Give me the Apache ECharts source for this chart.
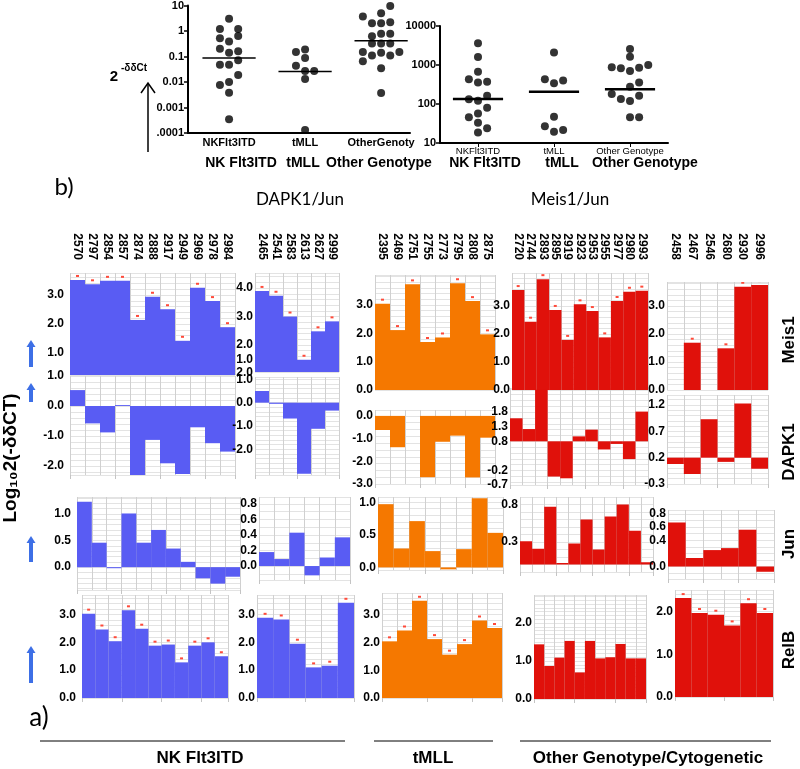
<!DOCTYPE html>
<html><head><meta charset="utf-8">
<script src="https://cdn.jsdelivr.net/npm/echarts@6/dist/echarts.min.js"></script>
<style>html,body{margin:0;padding:0;background:#fff}#c{width:800px;height:769px}</style>
</head><body><div id="c"></div>
<script>
// ================= DATA =================
// top panel (b): dot plots, each point = [dodge slot, value]
const topCats1 = ['NKFlt3ITD', 'tMLL', 'OtherGenotype'];
const topCats2 = ['NKFlt3ITD', 'tMLL', 'Other Genotype'];
const groupNames = ['NK Flt3ITD', 'tMLL', 'Other Genotype'];
const yTickLabels1 = ['.0001', '0.001', '0.01', '0.1', '1', '10'];
const yTickLabels2 = ['10', '100', '1000', '10000'];

const dj_nk = [[0,3.0],[-1,1.2],[1,1.2],[-1,0.52],[1,0.63],[0,0.39],[-1,0.2],[0,0.14],[1,0.16],[1,0.071],[-1,0.048],[0,0.048],[1,0.019],[0,0.01],[-1,0.0076],[0,0.0038],[0,0.00035]];
const dj_tmll = [[-1,0.15],[0,0.19],[0,0.087],[-1,0.043],[0,0.027],[1,0.027],[0,0.013],[0,0.00013]];
const dj_oth = [[1,9.5],[-2,3.7],[0,5.0],[-1,2.0],[0,2.0],[1,2.2],[0,0.78],[-1,0.62],[1,0.78],[-1,0.32],[0,0.32],[1,0.32],[-2,0.15],[0,0.14],[2,0.15],[-1,0.11],[1,0.11],[-2,0.065],[0,0.035],[0,0.0037]];
const dj_med = [0.087, 0.026, 0.41];

const mj_nk = [[0,3600],[0,1600],[0,670],[-1,430],[1,370],[0,355],[1,163],[-1,132],[0,121],[1,80],[0,57],[-1,46],[0,33],[1,24],[0,18.5]];
const mj_tmll = [[0,2100],[-1,430],[1,400],[0,340],[0,47],[-1,27],[0,19.5],[1,21.5]];
const mj_oth = [[0,2570],[0,1620],[-2,870],[-1,830],[0,700],[1,850],[2,1000],[1,355],[0,277],[-2,180],[-1,134],[0,119],[1,163],[0,46],[1,46]];
const mj_med = [134, 205, 240];

// bottom panel (a): sample ids per column group
const ids_nk1 = ['2570','2797','2854','2857','2874','2888','2917','2949','2969','2978','2984'];
const ids_nk2 = ['2465','2541','2583','2613','2627','2999'];
const ids_tmll = ['2395','2469','2751','2755','2773','2795','2808','2875'];
const ids_oth1 = ['2720','2744','2893','2895','2919','2923','2953','2955','2977','2980','2993'];
const ids_oth2 = ['2458','2467','2546','2680','2930','2996'];

const rowNames = ['Meis1', 'DAPK1', 'Jun', 'RelB'];
const bottomGroups = ['NK Flt3ITD', 'tMLL', 'Other Genotype/Cytogenetic'];

const meis1_nk1 = [3.52,3.37,3.49,3.49,2.14,2.94,2.51,1.42,3.25,2.79,1.89];
const meis1_nk2 = [3.9,3.73,3.0,1.48,2.48,2.83];
const meis1_tmll = [3.04,2.11,3.72,1.69,1.85,3.76,3.13,1.96];
const meis1_oth1 = [3.57,2.44,3.96,2.86,1.79,3.06,2.82,1.88,3.18,3.51,3.55];
const meis1_oth2 = [null,1.69,null,1.49,3.69,3.75];

const dapk1_nk1 = [0.53,-0.58,-0.88,0.03,-2.3,-1.13,-1.91,-2.27,-0.71,-1.24,-1.52];
const dapk1_nk2 = [0.5,-0.05,-0.68,-3.05,-1.12,-0.34];
const dapk1_tmll = [-0.62,-1.38,null,-2.7,-1.14,-0.87,-2.71,-0.96];
const dapk1_oth1 = [1.59,1.22,2.57,-0.41,-0.47,0.97,1.2,0.52,0.71,0.19,1.82];
const dapk1_oth2 = [0.08,-0.11,0.93,0.12,1.23,-0.01];

const jun_nk1 = [1.23,0.46,-0.02,1.01,0.46,0.70,0.35,0.10,-0.21,-0.31,-0.18];
const jun_nk2 = [0.18,0.09,0.43,-0.12,0.11,0.37];
const jun_tmll = [0.97,0.29,0.71,0.25,-0.03,0.28,1.06,0.53];
const jun_oth1 = [0.31,0.21,0.77,0.02,0.28,0.6,0.2,0.64,0.8,0.45,0.03];
const jun_oth2 = [0.67,0.13,0.25,0.28,0.56,-0.08];

const relb_nk1 = [3.03,2.46,2.04,3.15,2.49,1.88,1.92,1.28,1.88,2.0,1.5];
const relb_nk2 = [2.88,2.82,1.95,1.1,1.16,3.42];
const relb_tmll = [2.04,2.43,3.5,2.12,1.56,1.94,2.79,2.52];
const relb_oth1 = [1.44,0.87,1.09,1.53,0.70,1.53,1.07,1.10,1.45,1.07,1.07];
const relb_oth2 = [2.32,1.97,1.93,1.68,2.2,1.97];

// y tick labels shown per panel
const ticksMeis1 = [[1,2,3],[2,3,4],[0,1,2,3],[0,1,2,3],[0,1,2,3]];
const ticksDapk1 = [[1,0,-1,-2],[1,0,-1,-2],[0,-1,-2,-3],[1.8,1.3,0.8,-0.2,-0.7],[1.2,0.7,0.2,-0.3]];
const ticksJun = [[1,0.5,0],[0.8,0.6,0.4,0.2,0],[1,0.5,0],[0.8,0.3],[0.8,0.6,0.4,0]];
const ticksRelb = [[0,1,2,3],[0,1,2,3],[0,1,2,3],[0,1,2],[0,1,2]];

// ================= LAYOUT (positions / ranges) =================
// [left, top, right, bottom, axisMin, axisMax, barBase]
const LAYOUT = [
  [[70,273,235,375,0.24,3.76,0.24],[255,273,339,372,1.05,4.53,1.05],[375,275,495,390,0,4.05,0],[512,273,648,390,0,4.18,0],[667,282,768,390,0,3.86,0]],
  [[70,376,235,475,-2.3,1.0,0],[255,377,339,475,-3.1,1.1,0],[375,410,495,484,-3.0,0.26,0],[510,388,648,485,-0.7,2.63,0.8],[667,395,768,484,-0.3,1.39,0.2]],
  [[77,497,240,590,-0.43,1.32,0],[259,497,350,580,-0.18,0.89,0],[378,497,503,570,-0.04,1.08,0],[520,497,653,572,-0.1,0.9,0],[668,510,774,579,-0.19,0.86,0]],
  [[82,595,228,698,0,3.7,0],[257,595,354,698,0,3.7,0],[382,593,502,698,0,3.78,0],[534,595,646,699,0,2.74,0],[675,590,773,697,0,2.51,0]]
];

const F = "'Liberation Sans', Arial, sans-serif";
const L = "Lato, 'Open Sans', sans-serif";
const BLUE = '#595cf3', ORANGE = '#f57800', RED = '#e0110b';
const groupIds = [ids_nk1, ids_nk2, ids_tmll, ids_oth1, ids_oth2];
const groupColors = [BLUE, BLUE, ORANGE, RED, RED];
const rowValues = [
  [meis1_nk1, meis1_nk2, meis1_tmll, meis1_oth1, meis1_oth2],
  [dapk1_nk1, dapk1_nk2, dapk1_tmll, dapk1_oth1, dapk1_oth2],
  [jun_nk1, jun_nk2, jun_tmll, jun_oth1, jun_oth2],
  [relb_nk1, relb_nk2, relb_tmll, relb_oth1, relb_oth2]
];
const rowTicks = [ticksMeis1, ticksDapk1, ticksJun, ticksRelb];

const grids = [], xAxes = [], yAxes = [], series = [], graphic = [];
const SPREAD = 0.12;

// ---------- top dot plots ----------
function dotPanel(gi, groups, medians, medW, medLW) {
  groups.forEach((pts, ci) => {
    series.push({
      type: 'scatter', xAxisIndex: gi, yAxisIndex: gi, symbolSize: 8,
      itemStyle: { color: '#000' }, silent: true,
      data: pts.map(p => [ci + p[0] * SPREAD, p[1]])
    });
  });
  series.push({
    type: 'custom', xAxisIndex: gi, yAxisIndex: gi, silent: true,
    data: medians.map((m, i) => [i, m]),
    renderItem: (p, api) => {
      const a = api.coord([api.value(0) - medW, api.value(1)]);
      const b = api.coord([api.value(0) + medW, api.value(1)]);
      return { type: 'line', shape: { x1: a[0], y1: a[1], x2: b[0], y2: b[1] }, style: { stroke: '#000', lineWidth: medLW } };
    }
  });
}

// grid 0: DAPK1/Jun dot plot
grids.push({ left: 188, top: 5, width: 222, height: 128 });
xAxes.push({
  gridIndex: 0, type: 'value', min: -0.54, max: 2.38,
  axisLine: { show: true, onZero: false, lineStyle: { color: '#000', width: 2 } },
  axisTick: { show: false }, splitLine: { show: false },
  axisLabel: { customValues: [0, 1, 2], formatter: v => topCats1[Math.round(v)], color: '#000', fontFamily: F, fontWeight: 'bold', fontSize: 11, margin: 4, width: 70, overflow: 'truncate', ellipsis: '' }
});
yAxes.push({
  gridIndex: 0, type: 'log', logBase: 10, min: 0.0001, max: 10,
  axisLine: { show: true, onZero: false, lineStyle: { color: '#000', width: 2 } },
  axisTick: { show: true, length: 4, lineStyle: { color: '#000', width: 1.5 } },
  splitLine: { show: false }, minorTick: { show: false },
  axisLabel: { formatter: v => yTickLabels1[Math.round(Math.log10(v)) + 4], color: '#000', fontFamily: F, fontWeight: 'bold', fontSize: 11, margin: 4 }
});
dotPanel(0, [dj_nk, dj_tmll, dj_oth], dj_med, 0.35, 1.5);

// grid 1: Meis1/Jun dot plot
grids.push({ left: 440, top: 26, width: 228, height: 117 });
xAxes.push({
  gridIndex: 1, type: 'value', min: -0.5, max: 2.5,
  axisLine: { show: true, onZero: false, lineStyle: { color: '#000', width: 2 } },
  axisTick: { show: true, customValues: [0, 1, 2], length: 4, lineStyle: { color: '#000' } }, splitLine: { show: false },
  axisLabel: { customValues: [0, 1, 2], formatter: v => topCats2[Math.round(v)], color: '#000', fontFamily: F, fontSize: 9.5, margin: 3 }
});
yAxes.push({
  gridIndex: 1, type: 'log', logBase: 10, min: 10, max: 10000,
  axisLine: { show: true, onZero: false, lineStyle: { color: '#000', width: 2 } },
  axisTick: { show: true, length: 4, lineStyle: { color: '#000', width: 1.5 } },
  splitLine: { show: false },
  axisLabel: { formatter: v => yTickLabels2[Math.round(Math.log10(v)) - 1], color: '#000', fontFamily: F, fontWeight: 'bold', fontSize: 11, margin: 4 }
});
dotPanel(1, [mj_nk, mj_tmll, mj_oth], mj_med, 0.33, 2.5);

// ---------- bottom bar panels ----------
function barRender(base, color, marks) {
  return function (params, api) {
    const v = api.value(1);
    if (v == null || isNaN(v)) return;
    const i = api.value(0);
    const p1 = api.coord([i, v]);
    const p0 = api.coord([i, base]);
    const w = api.size([1, 0])[0];
    const children = [{
      type: 'rect',
      shape: { x: p1[0] - w / 2, y: Math.min(p0[1], p1[1]), width: w, height: Math.abs(p1[1] - p0[1]) },
      style: { fill: color }
    }];
    if (marks) {
      children.push({ type: 'rect', shape: { x: p1[0] - 1.5, y: p1[1] - 5, width: 3, height: 2 }, style: { fill: '#ff4a3a' } });
    }
    return { type: 'group', children };
  };
}

rowValues.forEach((rowVals, r) => {
  rowVals.forEach((vals, g) => {
    const [l, t, rr, b, mn, mx, base] = LAYOUT[r][g];
    const gi = grids.length;
    grids.push({ left: l, top: t, width: rr - l, height: b - t });
    const isTop = r === 0;
    // layering: this panel's axes sit above the previous panel's bars, below its own bars
    const zAxis = 2 * g + 1, zSeries = 2 * g + 2;
    xAxes.push({
      gridIndex: gi, type: 'category', data: groupIds[g], z: zAxis,
      position: isTop ? 'top' : 'bottom', offset: isTop ? t - 262 : 0,
      axisLine: { show: false, onZero: false },
      axisTick: isTop ? { show: false } : { show: true, length: 4, lineStyle: { color: '#c4c4c4' } },
      axisLabel: isTop ? { show: true, interval: 0, rotate: 90, margin: 2, color: '#000', fontFamily: F, fontWeight: 'bold', fontSize: 12 } : { show: false },
      splitLine: { show: true, interval: 0, lineStyle: { color: '#d0d0d0', width: 1 } }
    });
    yAxes.push({
      gridIndex: gi, type: 'value', min: mn, max: mx, z: zAxis,
      splitNumber: Math.max(6, Math.round((b - t) / 5.5)),
      axisLine: { show: false, onZero: false }, axisTick: { show: false },
      splitLine: { show: true, lineStyle: { color: '#e3e3e3', width: 1 } },
      axisLabel: { customValues: rowTicks[r][g], formatter: v => v.toFixed(1), color: '#000', fontFamily: F, fontWeight: 'bold', fontSize: 12, margin: g === 0 ? 6 : 2 }
    });
    const marks = (r === 0 || r === 3) && !(r === 3 && g === 3);
    series.push({
      type: 'custom', xAxisIndex: gi, yAxisIndex: gi, silent: true, clip: true, z: zSeries,
      data: vals.map((v, i) => [i, v]),
      renderItem: barRender(base, groupColors[g], marks)
    });
  });
});

// ---------- annotations ----------
function txt(text, x, y, font, opts) {
  const o = Object.assign({ align: 'center', vAlign: 'middle', rot: 0, fill: '#000' }, opts || {});
  graphic.push({ type: 'text', x, y, rotation: o.rot, silent: true, z: 20,
    style: { text, font, fill: o.fill, align: o.align, verticalAlign: o.vAlign } });
}
function line(x1, y1, x2, y2, color, w) {
  graphic.push({ type: 'line', silent: true, z: 20, shape: { x1, y1, x2, y2 }, style: { stroke: color, lineWidth: w } });
}
function blueArrow(x, yTip, yTail) {
  line(x, yTail, x, yTip + 6, '#3d6fe6', 4);
  graphic.push({ type: 'polygon', silent: true, z: 20, shape: { points: [[x - 4.5, yTip + 7], [x + 4.5, yTip + 7], [x, yTip]] }, style: { fill: '#3d6fe6' } });
}

// top labels
txt('2', 114, 77, 'bold 15px ' + F);
txt('-δδCt', 121, 68, 'bold 10px ' + F, { align: 'left' });
line(148, 152, 148, 83, '#000', 1.5);
graphic.push({ type: 'polyline', silent: true, shape: { points: [[141, 93], [148, 83], [155, 93]] }, style: { stroke: '#000', lineWidth: 1.5, fill: null } });
[241, 303, 379].forEach((x, i) => txt(groupNames[i], x, 163, 'bold 14px ' + F));
[485, 562, 645].forEach((x, i) => txt(groupNames[i], x, 163, 'bold 14px ' + F));
txt('b)', 64, 187, '24px ' + L);
txt('DAPK1/Jun', 300, 200, '17px ' + L);
txt('Meis1/Jun', 570, 200, '17px ' + L);

// stray axis labels of the pasted panel
txt('1.0', 253, 360, 'bold 12px ' + F, { align: 'right' });
txt('2.0', 253, 373, 'bold 12px ' + F, { align: 'right' });

// row labels and y title
[[340, 0], [452, 1], [544, 2], [650, 3]].forEach(([y, i]) => txt(rowNames[i], 789, y, 'bold 17px ' + F, { rot: Math.PI / 2 }));
txt('Log₁₀2(-δδCT)', 11, 458, 'bold 19px ' + F, { rot: Math.PI / 2 });
blueArrow(31, 340, 367);
blueArrow(31, 383, 402);
blueArrow(31, 536, 562);
blueArrow(31, 646, 683);
txt('a)', 39, 718, '26px ' + L);

// bottom group brackets
line(40, 741, 345, 741, '#000', 1);
line(374, 741, 493, 741, '#000', 1);
line(520, 741, 771, 741, '#000', 1);
txt(bottomGroups[0], 200, 758, 'bold 17px ' + F);
txt(bottomGroups[1], 433, 758, 'bold 17px ' + F);
txt(bottomGroups[2], 648, 758, 'bold 17px ' + F);

const chart = echarts.init(document.getElementById('c'), null, { renderer: 'canvas', width: 800, height: 769 });
chart.setOption({
  backgroundColor: '#fff',
  animation: false,
  grid: grids, xAxis: xAxes, yAxis: yAxes, series, graphic
});
</script>
</body></html>
